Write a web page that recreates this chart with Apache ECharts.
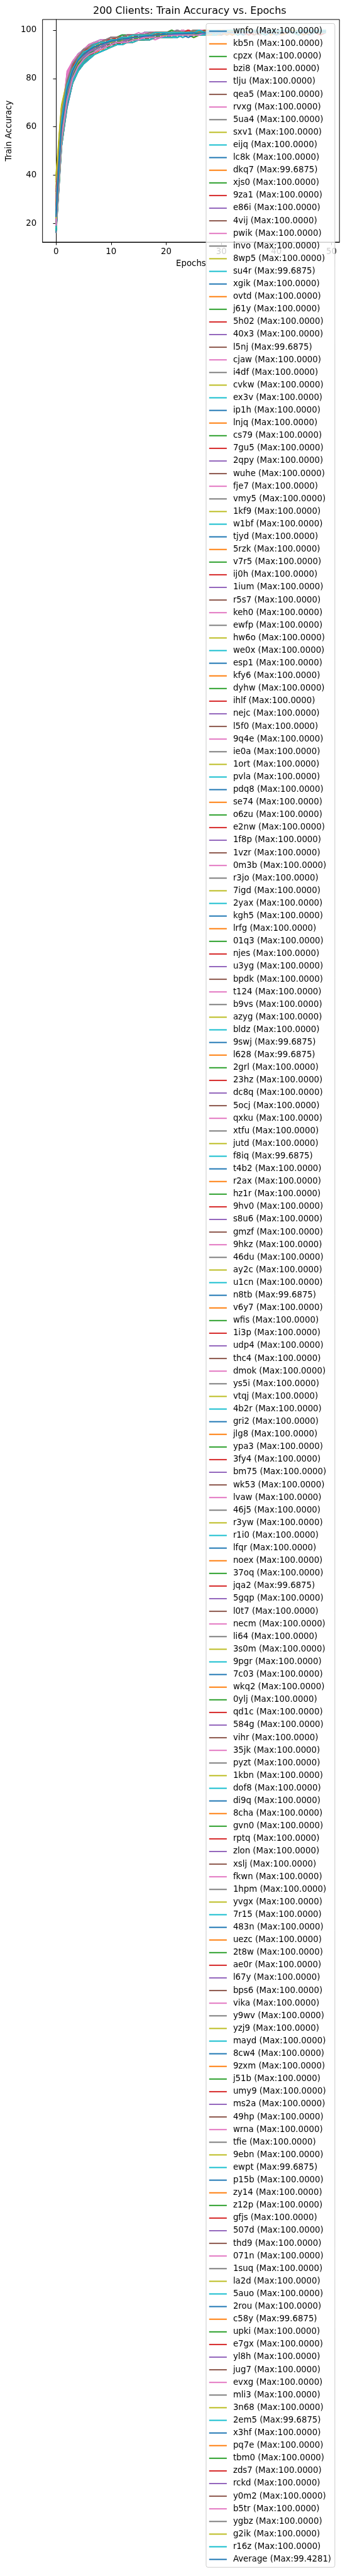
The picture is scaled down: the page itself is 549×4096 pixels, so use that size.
<!DOCTYPE html>
<html><head><meta charset="utf-8">
<script src="https://cdn.jsdelivr.net/npm/echarts@6/dist/echarts.min.js"></script>
<style>html,body{margin:0;padding:0;background:#fff}#chart{width:549px;height:4096px}</style>
</head><body><div id="chart"></div>
<script>
const titleText = '200 Clients: Train Accuracy vs. Epochs';
const xName = 'Epochs';
const yName = 'Train Accuracy';
const xTicks = [0,10,20,30,40,50];
const yTicks = [20,40,60,80,100];
const epochs = [0,1,2,3,4,5,6,7,8,9,10,11,12,13,14,15,16,17,18,19,20,21,22,23,24,25,26,27,28,29,30,31,32,33,34,35,36,37,38,39,40,41,42,43,44,45,46,47,48,49];
const clientNames = ['wnfo','kb5n','cpzx','bzi8','tlju','qea5','rvxg','5ua4','sxv1','eijq','lc8k','dkq7','xjs0','9za1','e86i','4vij','pwik','invo',
'8wp5','su4r','xgik','ovtd','j61y','5h02','40x3','l5nj','cjaw','i4df','cvkw','ex3v','ip1h','lnjq','cs79','7gu5','2qpy','wuhe',
'fje7','vmy5','1kf9','w1bf','tjyd','5rzk','v7r5','ij0h','1ium','r5s7','keh0','ewfp','hw6o','we0x','esp1','kfy6','dyhw','ihlf',
'nejc','l5f0','9q4e','ie0a','1ort','pvla','pdq8','se74','o6zu','e2nw','1f8p','1vzr','0m3b','r3jo','7igd','2yax','kgh5','lrfg',
'01q3','njes','u3yg','bpdk','t124','b9vs','azyg','bldz','9swj','l628','2grl','23hz','dc8q','5ocj','qxku','xtfu','jutd','f8iq',
't4b2','r2ax','hz1r','9hv0','s8u6','gmzf','9hkz','46du','ay2c','u1cn','n8tb','v6y7','wfis','1i3p','udp4','thc4','dmok','ys5i',
'vtqj','4b2r','gri2','jlg8','ypa3','3fy4','bm75','wk53','lvaw','46j5','r3yw','r1i0','lfqr','noex','37oq','jqa2','5gqp','l0t7','necm',
'li64','3s0m','9pgr','7c03','wkq2','0ylj','qd1c','584g','vihr','35jk','pyzt','1kbn','dof8','di9q','8cha','gvn0','rptq','zlon',
'xslj','fkwn','1hpm','yvgx','7r15','483n','uezc','2t8w','ae0r','l67y','bps6','vika','y9wv','yzj9','mayd','8cw4','9zxm','j51b',
'umy9','ms2a','49hp','wrna','tfie','9ebn','ewpt','p15b','zy14','z12p','gfjs','507d','thd9','071n','1suq','la2d','5auo','2rou',
'c58y','upki','e7gx','yl8h','jug7','evxg','mli3','3n68','2em5','x3hf','pq7e','tbm0','zds7','rckd','y0m2','b5tr','ygbz','g2ik','r16z'];
const clientMax = [100,100,100,100,100,100,100,100,100,100,100,99.6875,100,100,100,100,100,100,
100,99.6875,100,100,100,100,100,99.6875,100,100,100,100,100,100,100,100,100,100,
100,100,100,100,100,100,100,100,100,100,100,100,100,100,100,100,100,100,
100,100,100,100,100,100,100,100,100,100,100,100,100,100,100,100,100,100,
100,100,100,100,100,100,100,100,99.6875,99.6875,100,100,100,100,100,100,100,99.6875,
100,100,100,100,100,100,100,100,100,100,99.6875,100,100,100,100,100,100,100,
100,100,100,100,100,100,100,100,100,100,100,100,100,100,100,99.6875,100,100,100,
100,100,100,100,100,100,100,100,100,100,100,100,100,100,100,100,100,100,
100,100,100,100,100,100,100,100,100,100,100,100,100,100,100,100,100,100,
100,100,100,100,100,100,99.6875,100,100,100,100,100,100,100,100,100,100,100,
99.6875,100,100,100,100,100,100,100,99.6875,100,100,100,100,100,100,100,100,100,100];
const averageName = 'Average';
const averageMax = 99.4281;
const averageAcc = [22.6,59.8,75.2,83.1,87.5,90.0,91.8,93.1,94.0,94.8,95.4,95.9,96.3,96.6,97.0,97.2,97.5,97.7,97.9,98.1,98.3,98.4,98.5,98.6,98.7,98.8,98.8,98.9,99.0,99.0,99.1,99.1,99.1,99.2,99.2,99.2,99.2,99.3,99.3,99.3,99.3,99.3,99.4,99.3,99.4,99.4,99.4,99.4281,99.4,99.4];
const clientAcc = [
[22,61,76,84,88,91,92,94,94,95,96,96,97,96,97,97,98,97,98,98,98,99,98,99,99,98,99,99,100,99,99,99,98,99,100,99,99,100,99,99,100,99,100,99,99,100,100,99,100,99],
[19,58,73,82,87,89,91,93,94,95,95,96,96,97,97,96,98,97,98,98,99,98,98,99,98,99,99,99,98,99,100,99,99,99,100,99,98,99,100,100,99,99,100,99,100,99,100,100,99,100],
[26,64,78,85,89,91,93,94,95,95,96,97,96,97,98,97,98,98,97,98,99,98,99,99,98,99,100,99,99,98,99,100,99,99,99,100,99,100,99,99,100,99,99,100,100,99,100,99,100,100],
[17,55,71,80,86,88,90,92,93,94,95,95,96,95,96,97,96,97,97,98,97,98,98,97,98,99,98,98,99,98,99,99,98,99,99,100,99,99,98,99,100,99,99,99,100,99,100,99,100,99],
[30,66,79,86,90,92,93,94,95,96,96,97,97,98,97,98,98,99,98,98,99,99,98,99,99,100,99,99,99,100,99,99,100,99,99,100,100,99,100,99,99,100,99,100,100,99,100,100,99,100],
[21,60,75,83,87,90,92,93,94,94,95,96,96,96,97,97,97,98,98,97,98,98,99,98,99,98,99,99,98,99,99,100,99,99,99,98,99,100,99,99,100,99,99,100,99,99,100,99,100,100],
[24,63,80,86,89,91,93,95,94,96,96,97,97,97,98,98,97,98,99,98,98,99,99,98,99,99,100,99,99,99,98,99,100,99,100,99,99,100,99,100,99,100,99,99,100,100,99,100,99,100],
[18,54,70,79,84,87,89,91,92,93,94,95,95,96,96,96,97,97,97,98,97,98,98,98,99,98,98,99,99,98,99,99,99,100,99,98,99,99,100,99,99,99,100,99,100,99,99,100,99,100],
[38,68,78,85,88,91,92,94,95,95,96,96,97,97,97,98,98,98,99,98,99,98,99,99,98,99,99,100,99,99,99,100,99,99,100,99,100,99,99,100,99,100,100,99,100,99,100,100,99,100],
[20,62,77,84,89,92,93,94,95,96,97,96,97,98,97,98,98,98,99,99,98,99,99,99,100,99,99,98,99,100,99,99,100,99,100,99,99,100,100,99,100,99,100,100,99,100,100,99,100,100],
[23,59,74,83,87,90,91,93,94,95,95,96,97,96,97,97,98,97,98,98,98,99,98,99,99,99,98,99,99,100,99,99,99,100,99,100,99,99,100,99,99,100,100,99,100,99,100,99,100,100],
[16,52,69,78,84,87,89,90,92,93,94,94,95,95,96,96,96,97,97,97,98,97,98,98,98,97,98,98,99,98,98,99,98,99,99,98,99,99,99,98,99,99,99.6875,99,98,99,99,99,99,99],
[25,63,77,85,89,91,93,94,95,96,96,97,97,97,98,98,98,98,99,98,99,99,98,99,99,99,100,99,99,99,100,99,98,99,100,99,99,100,99,100,99,99,100,99,100,100,99,100,100,99],
[21,57,72,81,86,89,91,92,93,94,95,96,95,96,97,96,97,97,98,97,98,98,98,99,98,98,99,98,99,99,99,98,99,99,100,99,99,99,100,99,99,100,99,99,100,99,100,99,100,99],
[28,65,79,86,90,92,94,95,95,96,97,97,98,97,98,98,98,99,98,99,99,99,99,98,99,100,99,99,100,99,99,100,99,100,99,99,100,100,99,100,99,100,100,99,100,100,99,100,100,100],
[19,56,72,81,86,88,90,92,93,94,94,95,96,96,96,97,97,97,97,98,98,97,98,98,99,98,99,99,98,99,99,99,100,99,99,99,98,99,99,100,99,99,100,99,100,99,99,100,99,100],
[23,61,82,87,90,92,93,94,95,96,96,97,97,98,97,98,98,98,98,99,99,98,99,99,99,98,99,100,99,99,100,99,99,100,99,100,99,99,100,100,99,100,99,100,99,100,100,99,100,100],
[20,58,74,82,87,89,91,93,94,94,95,96,96,96,97,97,97,98,98,98,98,99,98,98,99,99,99,98,99,99,100,99,99,99,99,100,99,99,100,99,100,99,99,100,99,100,99,100,100,99],
[34,67,79,85,89,91,93,94,95,95,96,97,96,97,97,98,98,98,99,98,99,99,98,99,99,99,99,100,99,99,98,99,100,99,99,100,99,100,99,100,100,99,100,99,100,100,99,100,100,100],
[18,53,70,79,84,87,89,91,92,93,94,94,95,95,96,96,97,96,97,97,97,98,98,97,98,98,98,99,98,98,99,98,99,99,98,99,99,99,98,99,99,99.6875,99,99,98,99,99,99,99,99],
[22,60,76,84,88,90,92,93,94,95,96,96,97,97,97,98,98,98,98,99,98,99,99,99,98,99,99,99,100,99,99,100,99,99,100,99,99,100,100,99,100,99,100,99,100,100,99,100,100,100],
[27,64,78,86,89,92,93,94,95,96,96,97,97,98,98,98,98,99,98,99,99,99,98,99,99,100,99,99,100,99,99,99,100,99,100,99,100,99,100,100,99,100,100,99,100,100,100,99,100,100],
[17,54,69,79,83,86,89,90,92,93,93,94,95,95,96,96,96,97,97,97,97,98,98,98,98,97,98,99,98,98,99,99,99,98,99,99,99,100,99,99,99,100,99,99,100,99,99,100,99,100],
[24,62,76,84,88,90,92,94,94,95,96,96,97,97,98,97,98,98,98,99,98,99,99,99,99,98,99,99,100,99,99,100,99,100,99,99,100,99,100,100,99,100,99,100,100,99,100,100,100,99],
[21,59,75,83,87,90,91,93,94,95,95,96,96,97,97,97,98,98,97,98,98,99,98,99,99,99,98,99,99,99,100,99,99,100,99,99,100,99,99,100,100,99,100,99,100,99,100,100,99,100],
[19,55,71,80,85,88,90,91,92,93,94,95,95,96,96,96,97,97,97,97,98,98,97,98,98,98,99,98,98,99,98,99,99,98,99,99,99,98,99,99,99.6875,99,99,99,98,99,99,99,99,99],
[26,65,81,87,90,92,94,95,95,96,97,97,97,98,98,98,99,98,99,99,99,98,99,99,100,99,99,100,99,99,100,99,100,99,100,100,99,100,99,100,100,100,99,100,100,99,100,100,100,100],
[20,57,73,82,86,89,91,92,93,94,95,95,96,96,96,97,97,97,98,97,98,98,98,98,99,98,99,98,99,99,99,99,98,99,100,99,99,99,100,99,99,100,99,100,99,99,100,99,100,100],
[31,66,78,85,89,91,93,94,95,96,96,97,97,97,98,98,98,98,99,99,98,99,99,99,99,100,99,99,99,100,99,100,99,99,100,99,100,100,99,100,99,100,100,99,100,100,100,99,100,100],
[23,61,77,85,89,91,93,94,95,95,96,97,97,98,97,98,98,99,98,99,99,98,99,99,99,99,100,99,99,100,99,99,100,99,100,99,100,99,100,100,99,100,100,99,100,100,99,100,100,100],
[22,60,75,83,88,90,92,93,94,95,96,96,96,97,97,98,97,98,98,98,99,98,99,98,99,99,99,99,100,99,99,99,100,99,99,100,99,100,99,100,99,100,100,99,100,99,100,100,99,100],
[18,56,72,81,85,88,90,92,93,93,94,95,95,96,96,97,96,97,97,98,97,98,98,98,98,99,98,99,98,99,99,99,98,99,99,100,99,99,99,100,99,99,100,99,99,100,99,100,99,100],
[25,63,77,84,88,91,92,94,95,95,96,96,97,97,98,98,98,98,98,99,99,99,98,99,99,99,99,100,99,99,100,99,99,100,99,100,99,100,100,99,100,99,100,100,99,100,100,100,99,100],
[20,58,74,82,86,89,91,92,93,94,95,96,95,96,97,97,97,97,98,98,98,98,99,98,99,98,99,99,99,98,99,100,99,99,99,100,99,99,100,99,100,99,100,99,100,100,99,100,99,100],
[29,64,78,85,90,92,93,95,95,96,97,97,97,98,98,98,99,98,99,99,99,99,99,100,99,99,100,99,100,99,99,100,100,99,100,99,100,100,99,100,100,99,100,100,100,99,100,100,100,100],
[21,60,76,84,88,90,92,93,94,95,95,96,97,96,97,98,97,98,98,98,98,99,99,98,99,99,99,99,98,99,100,99,99,100,99,99,100,99,100,99,99,100,100,99,100,99,100,99,100,100],
[17,53,70,79,84,87,89,91,92,93,94,95,95,95,96,96,97,97,96,97,98,97,98,98,98,98,99,98,98,99,99,98,99,99,99,99,100,99,99,99,100,99,99,100,99,99,100,99,100,99],
[24,62,77,84,88,91,92,94,94,95,96,96,97,97,97,98,98,98,99,98,99,98,99,99,99,99,100,99,99,99,100,99,99,100,99,100,99,99,100,100,99,100,99,100,100,99,100,100,99,100],
[22,59,74,82,87,89,91,93,93,94,95,95,96,96,97,97,97,98,98,98,98,98,99,99,98,99,99,99,99,100,99,99,99,99,100,99,100,99,99,100,99,100,99,100,99,100,100,99,100,100],
[27,66,80,87,90,92,94,95,96,96,97,97,98,98,98,98,99,99,98,99,99,99,100,99,99,100,99,100,99,100,99,100,100,99,100,100,99,100,100,100,99,100,100,100,100,99,100,100,100,100],
[19,56,72,80,85,88,90,92,93,93,94,95,95,96,96,96,97,97,97,97,98,98,98,98,98,99,98,99,99,98,99,99,99,99,100,99,99,99,99,100,99,99,100,99,100,99,99,100,99,100],
[23,61,76,84,88,90,92,93,94,95,96,96,97,97,97,98,98,98,98,98,99,99,98,99,99,99,99,99,100,99,99,100,99,99,100,99,100,99,100,99,100,100,99,100,99,100,100,99,100,100],
[20,58,73,82,87,89,91,93,94,94,95,96,96,96,97,97,98,97,98,98,98,98,99,98,99,99,98,99,99,99,99,100,99,99,99,100,99,100,99,99,100,99,100,100,99,100,99,100,100,99],
[26,64,78,85,89,91,93,94,95,96,96,97,97,98,98,98,98,99,98,99,99,99,99,99,100,99,99,100,99,100,99,99,100,100,99,100,99,100,100,99,100,100,99,100,100,100,99,100,100,100],
[18,55,71,80,85,88,90,91,92,93,94,95,95,95,96,96,97,97,97,97,98,97,98,98,98,99,98,98,99,99,98,99,99,99,99,100,99,99,99,100,99,99,100,99,99,100,99,100,99,100],
[22,60,75,83,87,90,92,93,94,95,95,96,96,97,97,97,98,98,98,98,98,99,99,98,99,99,99,99,99,100,99,99,100,99,99,100,99,100,99,100,99,100,100,99,100,100,99,100,100,100],
[24,63,79,85,89,91,93,94,95,96,96,97,97,97,98,98,98,99,98,99,99,99,98,99,99,100,99,99,100,99,99,100,99,100,100,99,100,99,100,100,99,100,100,100,99,100,100,100,100,99],
[21,57,73,81,86,89,91,92,93,94,95,95,96,96,97,97,97,97,98,98,98,98,98,99,98,99,99,98,99,99,99,99,100,99,99,99,100,99,99,100,99,100,99,100,99,99,100,100,99,100],
[35,67,79,86,89,92,93,94,95,96,96,97,97,98,98,98,98,99,99,98,99,99,99,99,100,99,99,100,99,99,100,100,99,100,99,100,100,99,100,100,100,99,100,100,100,100,99,100,100,100],
[20,59,75,83,87,90,92,93,94,94,95,96,96,97,97,97,98,98,98,98,99,98,99,98,99,99,99,99,100,99,99,99,100,99,100,99,99,100,99,100,100,99,100,99,100,100,99,100,100,100],
[23,62,77,85,89,91,93,94,95,95,96,97,97,97,98,98,98,98,99,99,98,99,99,99,99,100,99,99,99,100,99,100,99,100,99,100,100,99,100,99,100,100,100,99,100,100,100,99,100,100],
[19,56,71,80,85,88,90,92,93,94,94,95,95,96,96,97,97,97,97,98,98,98,97,98,98,99,98,99,99,99,98,99,99,99,100,99,99,99,100,99,99,100,99,99,100,99,100,99,100,100],
[25,64,78,85,89,91,93,94,95,96,96,97,97,98,98,98,98,98,99,99,99,99,99,100,99,99,99,100,99,99,100,99,100,99,100,100,99,100,100,99,100,100,99,100,100,100,99,100,100,100],
[22,58,74,82,87,89,91,93,94,95,95,96,96,97,97,97,98,98,98,98,98,99,98,99,99,99,99,99,99,100,99,99,99,100,99,99,100,99,100,99,100,99,100,100,99,100,100,99,100,100],
[18,55,72,81,85,88,90,92,93,94,94,95,96,96,96,97,97,97,98,98,97,98,98,98,99,98,99,99,98,99,99,99,99,99,100,99,99,100,99,99,100,99,99,100,99,100,99,100,100,99],
[28,65,79,86,90,92,93,95,95,96,97,97,97,98,98,98,99,98,99,99,99,99,99,100,99,100,99,99,100,99,100,100,99,100,100,99,100,100,99,100,100,100,99,100,100,100,100,99,100,100],
[21,60,81,86,90,92,94,95,96,96,97,97,98,98,98,99,98,99,99,99,99,100,99,99,100,99,99,100,99,100,100,99,100,99,100,100,100,99,100,100,99,100,100,100,100,99,100,100,100,100],
[20,57,73,81,86,89,90,92,93,94,95,95,96,96,97,97,97,97,98,98,98,98,98,99,98,99,99,99,98,99,99,100,99,99,99,99,100,99,100,99,99,100,99,100,99,100,100,99,100,100],
[24,62,76,84,88,90,92,93,94,95,96,96,97,97,97,98,98,98,98,99,99,98,99,99,99,99,100,99,99,99,100,99,100,99,99,100,100,99,100,99,100,99,100,100,99,100,100,100,99,100],
[19,58,75,83,88,91,92,94,95,95,96,96,97,97,98,98,98,98,98,99,99,99,99,99,99,100,99,99,100,99,99,100,99,100,100,99,100,99,100,100,100,99,100,100,99,100,100,100,100,100],
[23,60,75,83,87,89,91,93,94,94,95,96,96,97,97,97,97,98,98,98,98,98,99,98,99,99,99,98,99,99,99,100,99,99,100,99,99,100,99,100,99,100,100,99,100,99,100,100,99,100],
[26,64,79,86,90,92,94,95,95,96,97,97,97,98,98,98,99,98,99,99,99,99,100,99,99,100,99,100,99,99,100,100,99,100,100,99,100,100,100,99,100,100,100,100,99,100,100,100,100,100],
[17,54,70,79,84,87,89,91,92,93,94,94,95,95,96,96,96,97,97,97,97,98,98,98,98,98,98,99,98,99,99,98,99,99,99,99,99,100,99,99,99,100,99,99,100,99,100,99,99,100],
[22,59,75,83,87,90,92,93,94,95,95,96,96,97,97,98,97,98,98,98,98,99,99,98,99,99,99,99,100,99,99,99,100,99,99,100,99,100,99,99,100,100,99,100,99,100,100,99,100,100],
[25,63,77,85,89,91,93,94,95,96,96,97,97,97,98,98,98,99,98,99,99,99,99,99,99,100,99,99,100,99,100,99,100,100,99,100,99,100,100,99,100,100,100,99,100,100,100,100,99,100],
[20,57,73,82,86,89,91,92,93,94,95,96,95,96,97,97,97,98,97,98,98,98,98,99,98,99,98,99,99,99,99,99,100,99,99,99,100,99,99,100,99,100,99,100,99,100,99,100,100,99],
[30,66,79,86,89,92,93,94,95,96,96,97,97,98,98,98,98,99,99,99,99,99,100,99,99,99,100,99,100,100,99,100,99,100,100,99,100,100,100,99,100,100,100,100,100,99,100,100,100,100],
[21,58,74,82,87,89,91,93,94,94,95,96,96,97,97,97,98,98,98,98,98,98,99,99,98,99,99,99,99,100,99,99,99,100,99,100,99,99,100,99,100,100,99,100,100,99,100,100,99,100],
[40,69,79,85,89,91,93,94,95,95,96,97,97,97,98,98,98,98,99,99,99,98,99,99,99,100,99,99,100,99,100,99,100,99,100,100,99,100,100,100,99,100,100,100,99,100,100,100,100,100],
[23,61,77,85,90,92,93,95,95,96,97,97,98,97,98,98,99,99,98,99,99,99,99,100,99,99,100,99,100,99,100,100,99,100,100,99,100,100,100,99,100,100,100,100,99,100,100,100,100,100],
[18,54,70,80,85,88,90,91,92,93,94,95,95,96,96,96,97,97,97,97,98,98,98,98,98,98,99,98,99,99,99,98,99,99,99,100,99,99,99,99,100,99,99,100,99,100,99,100,99,100],
[24,63,78,86,89,91,93,94,95,96,96,97,97,97,98,98,98,98,99,99,99,99,99,99,100,99,99,100,99,99,100,99,100,100,99,100,100,99,100,100,100,99,100,100,100,100,99,100,100,100],
[22,59,75,83,87,90,92,93,94,95,95,96,96,97,97,97,98,98,98,98,98,99,98,99,99,99,99,99,100,99,99,100,99,99,100,99,100,99,100,99,100,100,99,100,99,100,100,100,99,100],
[19,56,72,81,86,89,90,92,93,94,95,95,96,96,97,97,97,97,97,98,98,98,98,98,99,99,98,99,99,99,99,99,99,100,99,99,99,100,99,100,99,99,100,99,100,99,100,100,99,100],
[27,64,78,85,89,92,93,94,95,96,96,97,97,98,98,98,98,98,99,99,99,99,99,99,100,99,100,99,100,99,100,100,99,100,100,99,100,100,100,100,99,100,100,100,100,99,100,100,100,100],
[20,58,73,82,86,89,91,92,93,94,95,95,96,96,97,97,97,98,98,98,98,98,98,99,99,98,99,99,99,99,100,99,99,99,100,99,99,100,99,100,99,100,99,100,100,99,100,100,99,100],
[23,62,80,86,89,91,93,94,95,96,96,97,97,97,98,98,98,99,98,99,99,99,99,99,100,99,99,100,99,100,100,99,100,99,100,100,99,100,100,100,99,100,100,100,100,99,100,100,100,100],
[18,53,70,79,84,87,89,91,92,93,94,95,95,95,96,96,97,97,97,97,98,98,98,98,98,98,99,98,99,98,99,99,99,99,99,99,100,99,99,99,100,99,99,100,99,99,100,99,100,100],
[25,62,77,84,88,91,92,94,95,95,96,96,97,97,98,98,98,98,98,99,99,99,99,99,99,100,99,99,100,99,99,100,100,99,100,99,100,100,99,100,100,99,100,100,100,99,100,100,100,100],
[21,59,75,83,88,90,92,93,94,95,96,96,96,97,97,98,97,98,98,98,99,98,99,99,99,99,99,100,99,99,99,100,99,100,99,100,99,100,100,99,100,99,100,100,100,99,100,100,100,100],
[17,52,68,78,83,86,88,90,91,92,93,94,94,95,95,96,96,96,97,97,97,97,98,98,97,98,98,98,98,99,98,99,99,98,99,99,99,99,98,99,99,99,99.6875,99,99,99,98,99,99,99],
[20,56,72,81,85,88,90,91,92,93,94,95,95,96,96,96,97,97,97,97,98,97,98,98,98,98,99,98,98,99,99,99,98,99,99,99,99,99,99.6875,99,99,98,99,99,99,99,99,99,99,99],
[24,61,76,84,88,90,92,93,94,95,96,96,97,97,97,98,98,98,98,99,98,99,99,99,99,99,100,99,99,100,99,99,100,99,100,99,100,100,99,100,99,100,100,100,99,100,100,100,100,100],
[22,60,75,83,88,90,92,93,94,95,95,96,96,97,97,97,98,98,98,98,99,98,99,99,98,99,99,99,100,99,99,99,100,99,100,99,100,99,100,100,99,100,99,100,100,100,99,100,100,100],
[26,65,79,86,90,92,93,95,95,96,97,97,97,98,98,98,99,98,99,99,99,99,100,99,99,100,99,100,99,100,100,99,100,100,99,100,100,100,99,100,100,100,100,99,100,100,100,100,100,100],
[19,57,73,82,86,89,91,92,93,94,95,95,96,96,97,97,97,97,98,98,98,98,98,99,98,99,99,99,99,99,99,100,99,99,99,100,99,100,99,99,100,99,100,100,99,100,99,100,100,100],
[23,60,82,87,90,92,93,95,95,96,96,97,97,98,98,98,98,99,99,99,99,99,99,100,99,100,99,99,100,100,99,100,100,99,100,100,100,99,100,100,100,100,99,100,100,100,100,100,99,100],
[21,58,74,82,87,89,91,92,93,94,95,95,96,96,97,97,97,98,98,98,98,98,99,98,99,99,99,99,99,100,99,99,99,100,99,99,100,99,100,99,100,99,100,100,99,100,100,99,100,100],
[28,64,78,85,89,91,93,94,95,95,96,97,97,97,98,98,98,98,99,99,99,99,99,99,100,99,99,100,99,100,99,100,100,99,100,100,99,100,100,100,100,99,100,100,100,100,100,99,100,100],
[18,54,71,80,84,87,89,91,92,93,94,94,95,95,96,96,96,97,97,97,97,98,98,98,98,98,98,98,99,98,99,99,99,98,99,99,99,99,99,99.6875,99,99,99,99,98,99,99,99,99,99],
[22,59,75,83,87,90,92,93,94,95,96,96,96,97,97,97,98,98,98,98,99,98,99,99,99,99,99,100,99,99,100,99,100,99,99,100,99,100,100,99,100,100,99,100,100,100,99,100,100,100],
[25,62,77,84,89,91,92,94,95,95,96,97,97,97,98,98,98,99,98,99,99,99,99,99,100,99,100,99,99,100,100,99,100,100,99,100,100,100,99,100,100,100,100,100,99,100,100,100,100,100],
[20,57,73,81,86,89,90,92,93,94,95,95,96,96,96,97,97,97,98,98,98,98,98,98,99,98,99,99,99,99,99,99,100,99,99,99,100,99,99,100,99,100,99,100,100,99,100,99,100,100],
[23,61,76,84,88,90,92,93,94,95,96,96,97,97,97,98,98,98,98,98,99,99,99,99,99,99,99,100,99,100,99,99,100,99,100,100,99,100,100,99,100,100,100,99,100,100,100,100,99,100],
[19,55,72,80,85,88,90,92,93,93,94,95,95,96,96,97,97,97,97,98,98,98,98,98,98,99,99,98,99,99,99,99,99,99,100,99,99,100,99,99,100,99,100,99,100,100,99,100,100,99],
[27,65,79,86,89,92,93,94,95,96,96,97,97,98,98,98,98,99,99,99,99,99,99,100,99,100,99,100,99,100,100,99,100,100,100,99,100,100,100,100,99,100,100,100,100,100,99,100,100,100],
[21,59,83,87,90,92,94,95,95,96,97,97,97,98,98,98,99,98,99,99,99,99,100,99,99,100,100,99,100,99,100,100,100,99,100,100,100,100,99,100,100,100,100,100,100,99,100,100,100,100],
[18,54,70,79,84,87,89,91,92,93,94,94,95,95,96,96,96,97,97,97,97,98,98,98,98,98,98,99,99,98,99,99,99,99,99,99,100,99,99,99,100,99,99,99,100,99,100,99,100,100],
[24,62,76,84,88,91,92,94,94,95,96,96,97,97,97,98,98,98,98,99,98,99,99,99,99,99,100,99,99,100,99,100,99,100,100,99,100,100,99,100,100,100,99,100,100,100,100,99,100,100],
[22,60,76,84,89,91,93,94,95,96,96,97,97,98,97,98,98,98,99,99,99,99,99,99,99,100,99,100,99,100,99,100,100,99,100,100,99,100,100,100,99,100,100,100,100,100,99,100,100,100],
[16,52,68,78,83,86,88,90,91,92,93,94,94,95,95,96,96,96,97,97,97,97,97,98,98,98,98,98,98,99,98,99,99,99,98,99,99,99,99,99,98,99,99,99.6875,99,99,99,99,99,99],
[23,61,76,84,88,90,92,93,94,95,96,96,97,97,97,98,98,98,98,99,99,98,99,99,99,99,100,99,99,100,99,99,100,99,100,100,99,100,99,100,100,100,99,100,100,100,100,99,100,100],
[20,58,74,82,87,89,91,93,94,94,95,96,96,97,97,97,97,98,98,98,98,98,99,99,99,98,99,99,99,99,100,99,99,100,99,99,100,99,100,99,100,100,99,100,100,99,100,100,100,100],
[26,63,78,85,89,91,93,94,95,96,96,97,97,97,98,98,98,99,98,99,99,99,99,100,99,99,100,99,100,99,100,100,99,100,100,99,100,100,100,100,99,100,100,100,100,100,99,100,100,100],
[19,56,72,81,85,88,90,92,93,93,94,95,95,96,96,97,97,97,97,98,98,98,98,98,98,99,98,99,99,99,99,99,99,100,99,99,99,100,99,99,100,99,100,99,100,99,100,100,99,100],
[22,60,75,83,87,90,92,93,94,95,95,96,96,97,97,97,98,98,98,98,98,99,99,99,99,99,99,99,100,99,99,100,99,100,99,100,99,100,100,99,100,100,99,100,100,100,99,100,100,100],
[24,63,79,86,89,92,93,94,95,96,96,97,97,98,98,98,98,99,99,98,99,99,99,99,100,99,100,99,100,100,99,100,100,99,100,100,100,99,100,100,100,100,99,100,100,100,100,100,100,99],
[21,57,73,81,86,88,90,92,93,94,95,95,96,96,96,97,97,97,98,98,98,98,98,99,98,99,99,99,99,99,99,99,100,99,99,100,99,99,100,99,100,99,100,99,100,100,99,100,100,100],
[32,66,78,85,89,91,93,94,95,95,96,96,97,97,98,98,98,98,98,99,99,99,99,99,99,99,100,99,100,99,100,99,100,100,99,100,100,99,100,100,100,100,99,100,100,100,100,100,99,100],
[20,59,75,83,88,90,92,93,94,95,96,96,97,97,97,98,98,98,98,99,99,99,99,99,99,100,99,99,100,99,100,100,99,100,100,99,100,100,100,99,100,100,100,100,99,100,100,100,100,100],
[23,60,75,83,87,90,91,93,94,95,95,96,96,96,97,97,97,98,98,98,98,98,99,98,99,99,99,99,99,99,100,99,99,100,99,99,100,99,100,99,100,100,99,100,99,100,100,99,100,100],
[18,54,71,80,85,88,90,91,92,93,94,95,95,96,96,96,97,97,97,97,98,98,98,98,98,98,99,98,99,99,99,99,99,99,99,100,99,99,99,100,99,99,100,99,100,99,100,99,100,100],
[25,63,78,85,89,91,93,94,95,96,96,97,97,97,98,98,98,98,99,99,99,99,99,99,99,100,99,100,99,100,100,99,100,100,99,100,100,100,99,100,100,100,100,100,99,100,100,100,100,100],
[21,58,74,82,87,89,91,92,94,94,95,96,96,96,97,97,97,98,98,98,98,98,98,99,99,99,99,99,99,99,99,100,99,99,100,99,100,99,100,99,100,100,99,100,100,99,100,100,100,100],
[23,61,76,84,88,91,92,94,95,95,96,97,97,97,98,98,98,98,99,99,99,99,99,99,100,99,99,100,99,100,99,100,100,99,100,100,100,99,100,100,100,100,99,100,100,100,100,100,100,99],
[19,56,72,80,85,88,90,91,92,93,94,95,95,95,96,96,97,97,97,97,98,98,98,98,98,98,99,99,98,99,99,99,99,99,99,100,99,99,100,99,99,100,99,99,100,99,100,100,99,100],
[26,64,79,86,89,92,93,95,95,96,97,97,97,98,98,98,98,99,99,99,99,99,100,99,99,100,99,100,100,99,100,100,99,100,100,100,100,99,100,100,100,100,100,99,100,100,100,100,100,100],
[22,59,75,83,87,90,92,93,94,95,95,96,96,97,97,97,98,98,98,98,98,99,99,99,99,99,99,99,100,99,99,100,99,100,99,100,100,99,100,99,100,100,100,99,100,100,100,100,99,100],
[37,68,79,85,89,91,93,94,95,95,96,97,97,97,98,98,98,98,99,99,99,99,99,99,100,99,100,99,100,99,100,100,99,100,100,100,99,100,100,100,100,99,100,100,100,100,100,100,99,100],
[20,58,74,82,87,89,91,93,94,94,95,96,96,96,97,97,97,98,98,98,98,98,99,99,98,99,99,99,99,99,100,99,99,99,100,99,100,99,100,100,99,100,99,100,100,99,100,100,100,100],
[24,61,76,84,88,90,92,93,94,95,96,96,97,97,98,97,98,98,98,99,99,99,99,99,99,99,100,99,99,100,99,100,100,99,100,99,100,100,100,99,100,100,100,100,99,100,100,100,100,100],
[21,57,73,81,86,89,91,92,93,94,95,95,96,96,96,97,97,97,98,98,98,98,98,98,99,99,98,99,99,99,99,99,100,99,99,99,100,99,100,99,99,100,100,99,100,99,100,100,100,99],
[27,65,80,86,90,92,94,95,95,96,97,97,98,98,98,98,99,99,99,99,99,100,99,99,100,99,100,100,99,100,100,99,100,100,100,100,99,100,100,100,100,100,100,99,100,100,100,100,100,100],
[18,53,69,78,83,86,88,90,91,92,93,94,94,95,95,96,96,96,97,97,97,97,98,98,98,98,98,98,98,99,98,99,99,99,99,98,99,99,99,99,99,99.6875,99,99,99,99,99,99,98,99],
[22,60,75,83,88,90,92,93,94,95,95,96,96,97,97,97,98,98,98,98,98,99,99,99,99,99,99,99,100,99,99,100,99,100,99,100,99,100,100,99,100,100,100,99,100,100,100,99,100,100],
[25,62,77,84,88,91,92,94,95,95,96,96,97,97,97,98,98,98,99,98,99,99,99,99,99,100,99,99,100,99,100,100,99,100,100,99,100,100,100,99,100,100,100,100,100,99,100,100,100,100],
[20,58,79,85,89,91,93,94,95,96,96,97,97,98,98,98,98,99,99,99,99,99,99,100,99,100,99,100,100,99,100,100,100,99,100,100,100,100,99,100,100,100,100,100,100,100,99,100,100,100],
[19,55,71,80,85,88,89,91,92,93,94,95,95,95,96,96,97,97,97,97,97,98,98,98,98,98,99,98,99,99,99,99,99,99,99,99,100,99,99,100,99,99,100,99,100,99,100,99,100,100],
[28,65,78,85,89,91,93,94,95,96,96,97,97,97,98,98,98,98,99,99,99,99,99,99,99,100,99,100,99,100,100,99,100,100,99,100,100,100,99,100,100,100,100,99,100,100,100,100,100,100],
[23,62,78,85,89,91,93,94,95,96,96,97,97,97,98,98,98,99,99,99,99,99,99,99,100,99,100,99,100,100,99,100,100,100,99,100,100,100,100,100,99,100,100,100,100,100,100,99,100,100],
[21,58,74,82,86,89,91,92,93,94,95,95,96,96,97,97,97,97,98,98,98,98,98,99,99,99,99,99,99,99,100,99,99,99,100,99,99,100,99,100,99,100,100,99,100,100,99,100,100,100],
[24,61,76,84,88,90,92,93,94,95,96,96,96,97,97,98,98,98,98,98,99,99,99,99,99,99,99,100,99,100,99,99,100,100,99,100,99,100,100,100,99,100,100,100,100,99,100,100,100,100],
[17,53,70,79,84,87,89,90,92,93,93,94,95,95,96,96,96,97,97,97,97,97,98,98,98,98,98,98,99,98,99,99,99,99,99,99,99,100,99,99,99,100,99,99,100,99,100,99,100,100],
[22,59,75,83,87,90,92,93,94,95,95,96,96,97,97,97,98,98,98,98,98,98,99,99,99,99,99,99,99,100,99,99,100,99,100,99,100,99,100,100,99,100,100,99,100,100,100,100,99,100],
[26,63,78,85,89,91,93,94,95,96,96,97,97,98,98,98,98,98,99,99,99,99,99,99,100,99,100,99,100,99,100,100,99,100,100,100,99,100,100,100,100,100,99,100,100,100,100,100,100,100],
[20,57,73,81,86,89,90,92,93,94,95,95,96,96,96,97,97,97,97,98,98,98,98,98,99,98,99,99,99,99,99,99,99,100,99,99,100,99,99,100,99,100,99,100,100,99,100,100,99,100],
[23,64,82,87,90,92,94,95,95,96,97,97,97,98,98,98,99,99,99,99,99,99,100,99,100,99,100,100,99,100,100,100,99,100,100,100,100,100,99,100,100,100,100,100,100,100,99,100,100,100],
[19,56,72,80,85,88,90,91,92,93,94,95,95,96,96,96,97,97,97,97,98,98,98,98,98,98,99,98,99,99,99,99,99,99,99,100,99,99,99,100,99,100,99,99,100,99,100,100,99,100],
[29,65,78,85,89,91,93,94,95,95,96,97,97,97,98,98,98,98,99,99,99,99,99,99,99,100,99,100,99,100,100,99,100,100,100,99,100,100,100,100,100,99,100,100,100,100,100,100,100,99],
[21,59,75,83,88,90,92,94,94,95,96,96,97,97,97,98,98,98,98,99,99,99,99,99,99,99,100,99,100,99,99,100,100,99,100,100,99,100,100,100,100,99,100,100,100,100,100,99,100,100],
[22,60,75,83,87,90,91,93,94,94,95,96,96,96,97,97,97,98,98,98,98,98,99,98,99,99,99,99,99,99,100,99,99,100,99,100,99,100,99,100,100,99,100,100,99,100,100,100,100,99],
[25,62,77,84,88,91,92,94,95,95,96,96,97,97,98,98,98,98,98,99,99,99,99,99,99,99,100,99,100,99,100,100,99,100,100,99,100,100,100,100,99,100,100,100,100,100,100,99,100,100],
[18,54,70,79,84,87,89,91,92,93,94,94,95,95,96,96,96,97,97,97,97,98,98,98,98,98,98,99,98,99,99,99,99,99,99,99,99,100,99,99,100,99,99,100,99,100,99,100,100,99],
[24,61,76,84,88,90,92,93,94,95,96,96,97,97,97,98,98,98,98,99,99,99,99,99,99,99,99,100,99,99,100,100,99,100,99,100,100,100,99,100,100,100,100,99,100,100,100,100,100,100],
[20,58,74,82,87,89,91,92,93,94,95,95,96,96,97,97,97,97,98,98,98,98,98,98,99,99,99,99,99,99,99,100,99,99,99,100,99,100,99,100,100,99,100,100,99,100,100,100,99,100],
[33,66,79,85,89,91,93,94,95,95,96,97,97,97,98,98,98,98,99,99,99,99,99,99,99,100,99,100,100,99,100,100,99,100,100,100,100,99,100,100,100,100,100,99,100,100,100,100,100,100],
[22,60,76,84,88,90,92,93,94,95,96,96,97,97,97,98,98,98,98,98,99,99,99,99,99,99,99,99,100,99,100,99,100,100,99,100,100,99,100,100,100,99,100,100,100,100,100,99,100,100],
[19,56,72,81,85,88,90,91,92,93,94,95,95,96,96,96,97,97,97,97,98,98,98,98,98,98,98,99,99,99,98,99,99,99,99,99,100,99,99,100,99,99,100,99,100,99,100,100,99,100],
[26,63,78,85,89,91,93,94,95,96,96,97,97,97,98,98,98,99,99,99,99,99,99,99,100,99,100,99,100,100,99,100,100,100,99,100,100,100,100,100,99,100,100,100,100,100,100,100,99,100],
[23,62,80,86,90,92,93,95,95,96,97,97,97,98,98,98,99,99,99,99,99,99,100,99,100,99,100,100,99,100,100,100,100,99,100,100,100,100,100,99,100,100,100,100,100,100,100,99,100,100],
[21,58,74,82,86,89,91,92,93,94,95,95,96,96,96,97,97,97,98,98,98,98,98,98,99,99,99,99,99,99,99,99,100,99,99,100,99,100,99,100,99,100,100,99,100,100,99,100,100,100],
[24,61,76,84,88,90,92,93,94,95,96,96,96,97,97,98,98,98,98,98,99,99,99,99,99,99,99,100,99,100,99,100,99,100,100,99,100,100,100,99,100,100,100,100,100,99,100,100,100,100],
[18,54,71,80,84,87,89,91,92,93,94,94,95,95,96,96,96,97,97,97,97,98,98,98,98,98,98,98,99,99,99,99,99,99,99,99,99,100,99,99,99,100,99,100,99,100,99,100,100,100],
[22,59,75,83,87,90,92,93,94,95,95,96,96,97,97,97,97,98,98,98,98,98,99,99,99,99,99,99,99,99,100,99,100,99,99,100,100,99,100,100,99,100,100,100,99,100,100,100,100,100],
[27,64,78,85,89,91,93,94,95,96,96,97,97,98,98,98,98,98,99,99,99,99,99,99,100,99,100,99,100,100,99,100,100,100,99,100,100,100,100,100,99,100,100,100,100,100,100,100,99,100],
[20,57,73,81,86,89,90,92,93,94,95,95,96,96,96,97,97,97,97,98,98,98,98,98,98,99,99,99,99,99,99,99,99,100,99,99,100,99,100,99,100,100,99,100,99,100,100,100,99,100],
[23,62,77,85,89,91,92,94,95,95,96,97,97,97,98,98,98,98,99,99,99,99,99,99,99,100,99,100,99,100,100,99,100,100,100,99,100,100,100,100,100,100,99,100,100,100,100,100,100,100],
[21,58,74,82,87,89,91,93,93,94,95,96,96,96,97,97,97,98,98,98,98,98,98,99,99,99,99,99,99,99,99,100,99,100,99,99,100,100,99,100,100,99,100,100,100,99,100,100,100,100],
[25,63,78,85,89,91,93,94,95,96,96,97,97,97,98,98,98,98,98,99,99,99,99,99,99,99,100,99,100,99,100,100,99,100,100,100,99,100,100,100,100,100,99,100,100,100,100,100,100,100],
[19,55,72,80,85,88,90,91,92,93,94,95,95,96,96,96,97,97,97,97,98,98,98,98,98,98,99,99,98,99,99,99,99,99,99,99,100,99,99,100,99,100,99,99,100,100,99,100,100,100],
[22,60,75,83,88,90,92,93,94,95,96,96,96,97,97,98,98,98,98,98,99,99,99,99,99,99,99,99,100,99,100,99,100,100,99,100,100,100,99,100,100,100,100,100,99,100,100,100,100,100],
[28,65,79,86,89,92,93,94,95,96,97,97,97,98,98,98,98,99,99,99,99,99,99,100,99,100,99,100,100,100,99,100,100,100,100,100,99,100,100,100,100,100,100,100,100,99,100,100,100,100],
[20,57,73,81,86,89,91,92,93,94,95,95,96,96,97,97,97,97,98,98,98,98,98,99,98,99,99,99,99,99,99,99,100,99,99,100,99,100,99,100,99,100,100,99,100,100,100,99,100,100],
[24,61,77,84,88,90,92,93,94,95,96,96,97,97,97,98,98,98,98,99,99,99,99,99,99,99,100,99,99,100,100,99,100,100,99,100,100,100,100,99,100,100,100,100,100,100,99,100,100,100],
[21,59,75,83,87,90,91,93,94,94,95,96,96,96,97,97,97,98,98,98,98,98,99,99,99,99,99,99,99,99,100,99,99,100,99,100,99,100,100,99,100,100,99,100,100,100,100,99,100,100],
[18,54,70,79,84,87,89,91,92,93,94,94,95,95,96,96,96,97,97,97,97,98,98,98,98,98,98,98,99,99,99,99,99,99,99,99,99,99,100,99,99,100,99,99,100,99,100,100,99,100],
[26,64,81,87,90,92,94,95,95,96,97,97,97,98,98,98,99,99,99,99,99,99,100,99,100,99,100,100,99,100,100,100,100,99,100,100,100,100,100,100,99,100,100,100,100,100,100,100,100,99],
[22,59,75,83,87,90,92,93,94,95,95,96,96,97,97,97,98,98,98,98,98,99,99,99,99,99,99,99,99,100,99,100,99,100,99,100,100,99,100,100,100,99,100,100,100,100,99,100,100,100],
[23,62,76,84,88,91,92,94,95,95,96,96,97,97,98,98,98,98,98,99,99,99,99,99,99,100,99,99,100,99,100,100,99,100,100,100,99,100,100,100,100,100,99,100,100,100,100,100,100,100],
[17,52,69,78,83,86,88,90,91,92,93,94,94,95,95,96,96,96,97,97,97,97,97,98,98,98,98,98,98,98,99,98,99,99,99,99,99,99,98,99,99,99,99,99,99.6875,99,99,99,99,99],
[21,58,74,82,87,89,91,92,93,94,95,96,96,96,97,97,97,98,98,98,98,98,98,99,99,99,99,99,99,99,99,100,99,100,99,99,100,100,99,100,100,99,100,100,100,100,99,100,100,100],
[25,63,78,85,89,91,93,94,95,96,96,97,97,97,98,98,98,99,99,99,99,99,99,99,100,99,100,99,100,100,99,100,100,100,99,100,100,100,100,100,100,99,100,100,100,100,100,100,100,100],
[20,57,73,81,86,88,90,92,93,94,95,95,96,96,96,97,97,97,97,98,98,98,98,98,98,99,99,99,99,99,99,99,99,99,100,99,100,99,99,100,99,100,100,99,100,100,99,100,100,100],
[23,61,76,84,88,90,92,93,94,95,96,96,97,97,97,98,98,98,98,98,99,99,99,99,99,99,99,99,100,99,100,100,99,100,99,100,100,100,99,100,100,100,100,100,99,100,100,100,100,100],
[30,66,79,86,89,91,93,94,95,96,96,97,97,98,98,98,98,99,99,99,99,99,99,100,99,100,99,100,100,99,100,100,100,100,99,100,100,100,100,100,100,100,99,100,100,100,100,100,100,100],
[19,56,72,80,85,88,90,91,92,93,94,95,95,96,96,96,97,97,97,97,98,98,98,98,98,98,98,99,99,99,99,99,99,99,99,99,100,99,100,99,99,100,99,100,100,99,100,100,100,100],
[22,60,79,85,89,91,93,94,95,96,96,97,97,98,98,98,98,99,99,99,99,99,99,99,100,99,100,100,99,100,100,100,99,100,100,100,100,100,99,100,100,100,100,100,100,100,100,99,100,100],
[21,58,74,82,86,89,91,92,93,94,95,95,96,96,97,97,97,97,98,98,98,98,98,98,99,99,99,99,99,99,99,99,100,99,99,100,99,100,99,100,100,99,100,100,100,99,100,100,100,100],
[24,62,77,84,88,91,92,94,94,95,96,96,97,97,97,98,98,98,98,99,99,99,99,99,99,99,100,99,100,99,100,100,99,100,100,100,99,100,100,100,100,100,100,99,100,100,100,100,100,100],
[20,57,73,81,86,89,90,92,93,94,94,95,96,96,96,97,97,97,98,98,98,98,98,98,98,99,99,99,99,99,99,99,99,100,99,99,100,99,100,100,99,100,99,100,100,100,99,100,100,100],
[26,63,78,85,89,91,93,94,95,96,96,97,97,97,98,98,98,98,99,99,99,99,99,99,99,100,99,100,100,99,100,100,100,99,100,100,100,100,100,99,100,100,100,100,100,100,100,100,100,100],
[18,53,70,79,84,87,89,90,92,92,93,94,94,95,95,96,96,96,97,97,97,97,98,98,98,98,98,98,98,99,99,98,99,99,99,99,99,99,99,99,99.6875,99,99,99,99,98,99,99,99,99],
[22,60,75,83,88,90,92,93,94,95,95,96,96,97,97,97,98,98,98,98,98,99,99,99,99,99,99,99,99,100,99,100,99,100,100,99,100,100,100,99,100,100,100,100,100,99,100,100,100,100],
[27,64,78,85,89,91,93,94,95,96,96,97,97,98,98,98,98,98,99,99,99,99,99,99,99,100,99,100,100,99,100,100,100,100,99,100,100,100,100,100,100,99,100,100,100,100,100,100,100,100],
[19,56,72,80,85,88,90,91,92,93,94,95,95,96,96,96,97,97,97,97,97,98,98,98,98,98,99,98,99,99,99,99,99,99,99,99,99,100,99,99,100,99,100,99,100,100,99,100,100,100],
[23,61,76,84,88,90,92,93,94,95,96,96,97,97,97,98,98,98,98,98,99,99,99,99,99,99,99,100,99,100,99,100,100,99,100,100,100,99,100,100,100,100,100,99,100,100,100,100,100,100],
[21,59,80,86,89,91,93,94,95,96,96,97,97,98,98,98,98,99,99,99,99,99,99,100,99,100,100,99,100,100,100,99,100,100,100,100,100,100,99,100,100,100,100,100,100,100,100,100,99,100],
[20,57,73,82,86,89,91,92,93,94,95,95,96,96,96,97,97,97,98,98,98,98,98,98,99,99,99,99,99,99,99,99,100,99,99,100,99,100,99,100,100,99,100,100,100,100,99,100,100,100],
[39,68,79,85,89,91,93,94,95,95,96,97,97,97,98,98,98,98,99,99,99,99,99,99,99,100,99,100,99,100,100,100,99,100,100,100,100,100,99,100,100,100,100,100,100,100,100,100,100,100],
[18,54,70,79,84,87,89,90,91,92,93,94,94,95,95,96,96,96,97,97,97,97,98,98,98,98,98,98,99,98,99,99,99,99,99,99,99,99,99,99,99,99.6875,99,99,99,99,99,99,99,99],
[22,60,76,84,88,90,92,93,94,95,96,96,96,97,97,98,98,98,98,98,99,99,99,99,99,99,99,99,100,99,100,99,100,100,99,100,100,100,100,99,100,100,100,100,100,100,99,100,100,100],
[24,62,77,84,89,91,92,94,95,95,96,97,97,97,98,98,98,98,99,99,99,99,99,99,99,100,99,100,100,99,100,100,100,99,100,100,100,100,100,100,100,99,100,100,100,100,100,100,100,100],
[20,57,73,81,86,88,90,92,93,94,94,95,96,96,96,97,97,97,97,98,98,98,98,98,98,98,99,99,99,99,99,99,99,99,100,99,99,100,99,100,99,100,100,99,100,100,100,100,99,100],
[25,63,78,85,89,91,93,94,95,96,96,97,97,98,98,98,98,98,99,99,99,99,99,99,100,99,100,99,100,100,100,99,100,100,100,100,100,99,100,100,100,100,100,100,100,100,99,100,100,100],
[21,58,74,82,87,89,91,92,93,94,95,96,96,96,97,97,97,98,98,98,98,98,98,99,99,99,99,99,99,99,99,100,99,99,100,99,100,100,99,100,100,99,100,100,100,99,100,100,100,100],
[23,61,76,84,88,90,92,93,94,95,96,96,97,97,97,98,98,98,98,99,99,99,99,99,99,99,99,100,99,100,100,99,100,100,100,99,100,100,100,100,100,100,99,100,100,100,100,100,100,100],
[19,55,71,80,85,88,90,91,92,93,94,95,95,95,96,96,97,97,97,97,98,98,98,98,98,98,98,99,99,99,99,99,99,99,99,99,99,100,99,99,100,99,100,99,100,100,99,100,100,100],
[26,64,79,86,89,92,93,94,95,96,97,97,97,98,98,98,98,99,99,99,99,99,100,99,99,100,100,99,100,100,100,100,99,100,100,100,100,100,100,99,100,100,100,100,100,100,100,100,100,100],
[22,59,75,83,87,90,92,93,94,95,95,96,96,97,97,97,98,98,98,98,98,99,99,99,99,99,99,99,99,99,100,99,100,99,100,100,99,100,100,100,99,100,100,100,100,100,99,100,100,100],
[24,62,77,84,88,91,92,94,95,95,96,96,97,97,98,98,98,98,99,99,99,99,99,99,99,99,100,99,100,100,99,100,100,100,100,99,100,100,100,100,100,100,100,99,100,100,100,100,100,100]
];

const FONT = 'DejaVu Sans';
const palette = ['#1f77b4','#ff7f0e','#2ca02c','#d62728','#9467bd','#8c564b','#e377c2','#7f7f7f','#bcbd22','#17becf'];
const names = clientNames.concat([averageName]);
const maxes = clientMax.concat([averageMax]);
const allData = clientAcc.concat([averageAcc]);
const maxOf = {};
names.forEach((n, i) => { maxOf[n] = maxes[i]; });

const series = allData.map((vals, i) => ({
  name: names[i],
  type: 'line',
  data: vals.map((v, j) => [epochs[j], v]),
  symbol: 'none',
  showSymbol: false,
  silent: true,
  animation: false,
  lineStyle: { width: 2, join: 'round', cap: 'butt' },
  emphasis: { disabled: true }
}));

const chart = echarts.init(document.getElementById('chart'), null, { renderer: 'canvas' });
chart.setOption({
  animation: false,
  color: palette,
  textStyle: { fontFamily: FONT },
  title: {
    text: titleText, left: 301.8, top: 9.6, textAlign: 'center', padding: 0,
    textStyle: { fontFamily: FONT, fontSize: 16, fontWeight: 'normal', color: '#000', lineHeight: 16 }
  },
  grid: { left: 63.4, right: 8.8, top: 31, bottom: 3711, show: true, borderColor: '#000', borderWidth: 1, containLabel: false },
  xAxis: {
    type: 'value', min: -2.45, max: 51.45,
    name: xName, nameLocation: 'middle', nameGap: 27.5,
    nameTextStyle: { fontFamily: FONT, fontSize: 13.3, color: '#000', lineHeight: 14 },
    axisLine: { show: true, lineStyle: { color: '#000', width: 1 } },
    axisTick: { show: true, length: 4.7, lineStyle: { color: '#000', width: 1 }, customValues: xTicks },
    axisLabel: { customValues: xTicks, margin: 9.4, fontFamily: FONT, fontSize: 13.3, color: '#000' },
    splitLine: { show: false }
  },
  yAxis: {
    type: 'value', min: 12.2, max: 104.43,
    name: yName, nameLocation: 'middle', nameGap: 42.4,
    nameTextStyle: { fontFamily: FONT, fontSize: 13.3, color: '#000', lineHeight: 14 },
    axisLine: { show: true, lineStyle: { color: '#000', width: 1 } },
    axisTick: { show: true, length: 4.7, lineStyle: { color: '#000', width: 1 }, customValues: yTicks },
    axisLabel: { customValues: yTicks, margin: 9.4, fontFamily: FONT, fontSize: 13.3, color: '#000' },
    splitLine: { show: false }
  },
  legend: {
    orient: 'vertical', left: 328, top: 37.4,
    padding: [5.2, 5.8, 5.6, 4.8],
    itemGap: 6.1, itemWidth: 28.1, itemHeight: 2, icon: 'rect',
    backgroundColor: 'rgba(255,255,255,0.8)', borderColor: '#cccccc', borderWidth: 1, borderRadius: 3,
    textStyle: { fontFamily: FONT, fontSize: 13.3, color: '#000', lineHeight: 14, padding: [0, 0, 0, 5] },
    formatter: name => name + ' (Max:' + maxOf[name].toFixed(4) + ')',
    data: names,
    selectedMode: false
  },
  tooltip: { show: false },
  series: series
});
</script>
</body></html>
